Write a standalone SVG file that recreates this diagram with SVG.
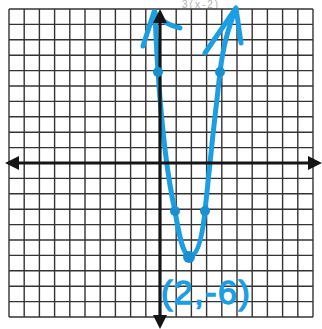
<svg xmlns="http://www.w3.org/2000/svg" width="322" height="329" viewBox="0 0 322 329">
<style>
.grid line{stroke:#333333;stroke-width:1.4}
.axis{stroke:#151515;stroke-width:3.2;fill:none}
.ah{fill:#151515}
.curve{stroke:#1c9ee2;stroke-width:5;fill:none;stroke-linecap:round;stroke-linejoin:round}
.dot{fill:#1a8fd0}
.lbl{font-family:"Liberation Sans",Arial,sans-serif;fill:#1c9ee2}
</style>
<rect width="322" height="329" fill="#ffffff"/>
<text class="lbl" x="182" y="8" font-size="10" letter-spacing="2" style="fill:#b0b0b0">3(x-2)</text>
<g id="grid" class="grid">
<line x1="9" y1="9" x2="9" y2="317"/>
<line x1="24.2" y1="9" x2="24.2" y2="317"/>
<line x1="39.4" y1="9" x2="39.4" y2="317"/>
<line x1="54.6" y1="9" x2="54.6" y2="317"/>
<line x1="69.8" y1="9" x2="69.8" y2="317"/>
<line x1="85" y1="9" x2="85" y2="317"/>
<line x1="100.2" y1="9" x2="100.2" y2="317"/>
<line x1="115.4" y1="9" x2="115.4" y2="317"/>
<line x1="130.6" y1="9" x2="130.6" y2="317"/>
<line x1="145.8" y1="9" x2="145.8" y2="317"/>
<line x1="176.2" y1="9" x2="176.2" y2="317"/>
<line x1="191.4" y1="9" x2="191.4" y2="317"/>
<line x1="206.6" y1="9" x2="206.6" y2="317"/>
<line x1="221.8" y1="9" x2="221.8" y2="317"/>
<line x1="237" y1="9" x2="237" y2="317"/>
<line x1="252.2" y1="9" x2="252.2" y2="317"/>
<line x1="267.4" y1="9" x2="267.4" y2="317"/>
<line x1="282.6" y1="9" x2="282.6" y2="317"/>
<line x1="297.8" y1="9" x2="297.8" y2="317"/>
<line x1="313" y1="9" x2="313" y2="317"/>
<line x1="9" y1="9" x2="313" y2="9"/>
<line x1="9" y1="24.4" x2="313" y2="24.4"/>
<line x1="9" y1="39.8" x2="313" y2="39.8"/>
<line x1="9" y1="55.2" x2="313" y2="55.2"/>
<line x1="9" y1="70.6" x2="313" y2="70.6"/>
<line x1="9" y1="86" x2="313" y2="86"/>
<line x1="9" y1="101.4" x2="313" y2="101.4"/>
<line x1="9" y1="116.8" x2="313" y2="116.8"/>
<line x1="9" y1="132.2" x2="313" y2="132.2"/>
<line x1="9" y1="147.6" x2="313" y2="147.6"/>
<line x1="9" y1="178.4" x2="313" y2="178.4"/>
<line x1="9" y1="193.8" x2="313" y2="193.8"/>
<line x1="9" y1="209.2" x2="313" y2="209.2"/>
<line x1="9" y1="224.6" x2="313" y2="224.6"/>
<line x1="9" y1="240" x2="313" y2="240"/>
<line x1="9" y1="255.4" x2="313" y2="255.4"/>
<line x1="9" y1="270.8" x2="313" y2="270.8"/>
<line x1="9" y1="286.2" x2="313" y2="286.2"/>
<line x1="9" y1="301.6" x2="313" y2="301.6"/>
<line x1="9" y1="317" x2="313" y2="317"/>
</g>
<g id="curve">
<path class="curve" d="M155,12 C156,40 157,55 158,72 C162,130 168,180 175,211 C179,235 183,256 190,256 C199,256 203,230 205,211 C209,170 215,115 220,72 C224,40 230,25 235,10"/>
<path class="curve" d="M143,46 L154,12 M156,15 Q166,25 180,28"/>
<path class="curve" d="M205,53 L236,8 L241,43"/>
</g>
<g id="axes">
<line class="axis" x1="16" y1="163" x2="311" y2="163"/>
<polygon class="ah" points="5,163 19,156 19,170"/>
<polygon class="ah" points="322,163 308,156 308,170"/>
<line class="axis" x1="160" y1="20" x2="160" y2="318"/>
<polygon class="ah" points="160,9 153,23 167,23"/>
<polygon class="ah" points="160,329 153,315 167,315"/>
</g>
<g id="points">
<circle class="dot" cx="158" cy="72" r="5"/>
<circle class="dot" cx="220" cy="72" r="5"/>
<circle class="dot" cx="175" cy="211" r="5"/>
<circle class="dot" cx="205" cy="211" r="5"/>
<circle class="dot" cx="189" cy="257" r="6"/>
</g>
<text id="vertex-label" class="lbl" x="161" y="304" font-size="34" letter-spacing="1.5" stroke="#1c9ee2" stroke-width="1.3">(2,-6)</text>
</svg>
